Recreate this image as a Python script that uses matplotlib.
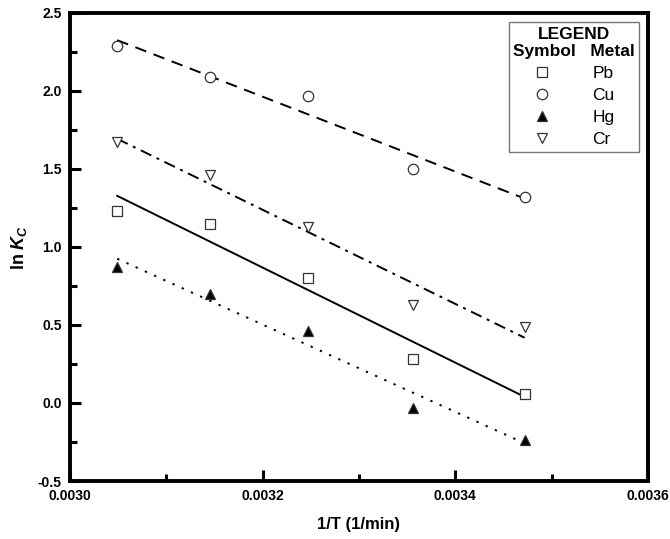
import numpy as np
import matplotlib
matplotlib.use("Agg")
import matplotlib.pyplot as plt
from matplotlib.ticker import MultipleLocator, FormatStrFormatter

plt.rcParams['font.family'] = ['Liberation Sans', 'DejaVu Sans']
plt.rcParams['mathtext.fontset'] = 'custom'
plt.rcParams['mathtext.it'] = 'Liberation Sans:italic:bold'
plt.rcParams['mathtext.rm'] = 'Liberation Sans:bold'

# 1/T values
inv_T = [0.003049, 0.003145, 0.003247, 0.003356, 0.003472]

# ln Kc per metal
pb = [1.23, 1.15, 0.80, 0.28, 0.06]
cu = [2.29, 2.09, 1.97, 1.50, 1.32]
hg = [0.87, 0.70, 0.46, -0.03, -0.24]
cr = [1.67, 1.46, 1.13, 0.63, 0.49]

metals = ['Pb', 'Cu', 'Hg', 'Cr']

fig = plt.figure(figsize=(6.7, 5.39), dpi=100)
ax = fig.add_axes([0.1045, 0.1076, 0.8625, 0.8684])

x = np.array(inv_T)
series = [
    (pb, 's', 'white', '-'),
    (cu, 'o', 'white', (0, (6, 4))),
    (hg, '^', 'black', (0, (1.2, 4))),
    (cr, 'v', 'white', (0, (6, 3, 1.5, 3))),
]

handles = []
for (y, m, fc, ls), name in zip(series, metals):
    k, b = np.polyfit(x, y, 1)
    ax.plot(x, k * x + b, color='black', linestyle=ls, linewidth=1.4)
    h, = ax.plot(x, y, linestyle='none', marker=m, markersize=7.5,
                 markerfacecolor=fc, markeredgecolor='#333333',
                 markeredgewidth=0.9, label=name)
    handles.append(h)

ax.set_xlim(0.0030, 0.0036)
ax.set_ylim(-0.5, 2.5)
ax.xaxis.set_major_locator(MultipleLocator(0.0002))
ax.xaxis.set_minor_locator(MultipleLocator(0.0001))
ax.yaxis.set_major_locator(MultipleLocator(0.5))
ax.yaxis.set_minor_locator(MultipleLocator(0.25))
ax.xaxis.set_major_formatter(FormatStrFormatter('%.4f'))
ax.yaxis.set_major_formatter(FormatStrFormatter('%.1f'))

ax.tick_params(which='both', direction='in', top=False, right=False,
               width=2.2, labelsize=10)
ax.tick_params(which='major', length=8, pad=6)
ax.tick_params(which='minor', length=5)
for lab in ax.get_xticklabels() + ax.get_yticklabels():
    lab.set_fontweight('bold')
for sp in ax.spines.values():
    sp.set_linewidth(2.8)

ax.set_xlabel('1/T (1/min)', fontsize=12, fontweight='bold', labelpad=10)
ax.set_ylabel(r'ln $K_C$', fontsize=13, fontweight='bold', labelpad=6)

leg = ax.legend(handles=handles, loc='upper right', bbox_to_anchor=(0.985, 0.98),
                title='LEGEND\nSymbol   Metal', fontsize=12.5, markerscale=1.0,
                frameon=True, fancybox=False, edgecolor='#555555',
                handlelength=1.0, handletextpad=2.4, borderpad=0.25,
                labelspacing=0.4, borderaxespad=0.0)
leg.get_title().set_fontweight('bold')
leg.get_title().set_fontsize(12.5)
leg.get_title().set_multialignment('center')
leg.get_frame().set_linewidth(1.0)

fig.savefig('out.png', dpi=100)
